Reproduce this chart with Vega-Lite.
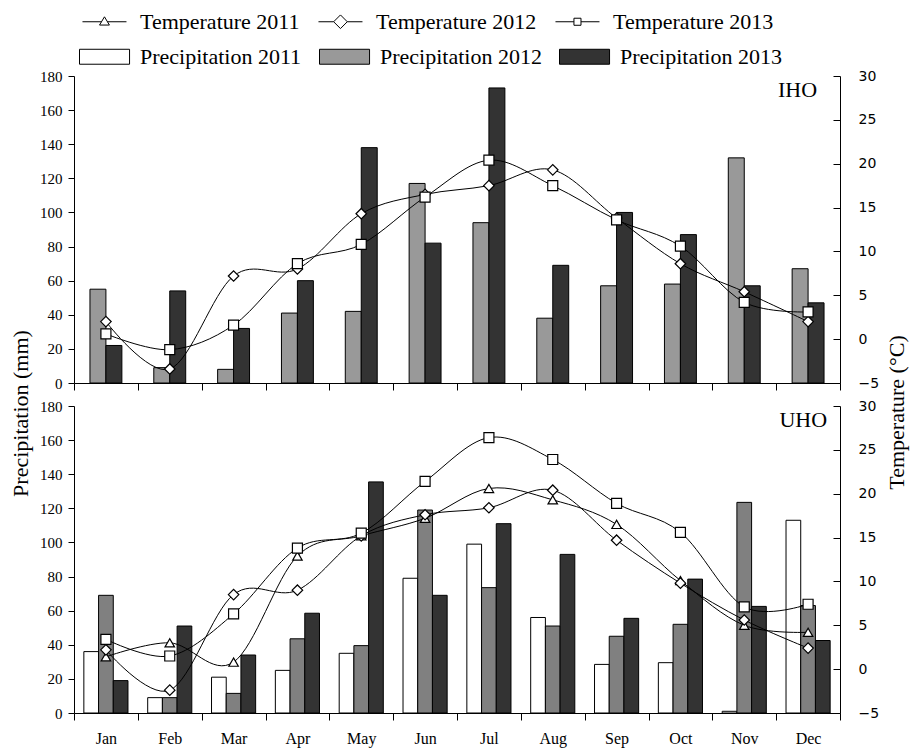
{
  "$schema": "https://vega.github.io/schema/vega-lite/v6.json",
  "padding": {"left": 9, "top": 10, "right": 2, "bottom": 5},
  "background": "white",
  "config": {
    "view": {"stroke": null},
    "font": "Liberation Serif",
    "axis": {"domainColor": "black", "tickColor": "black", "labelColor": "black", "titleColor": "black", "grid": false, "titleFontWeight": "normal", "labelFont": "Liberation Serif", "titleFont": "Liberation Serif", "domainWidth": 1, "tickWidth": 1, "labelOverlap": false}
  },
  "datasets": {
    "precip": [
      {"panel": "IHO", "month": "Jan", "series": "Precipitation 2012", "precip": 55},
      {"panel": "IHO", "month": "Feb", "series": "Precipitation 2012", "precip": 9},
      {"panel": "IHO", "month": "Mar", "series": "Precipitation 2012", "precip": 8},
      {"panel": "IHO", "month": "Apr", "series": "Precipitation 2012", "precip": 41},
      {"panel": "IHO", "month": "May", "series": "Precipitation 2012", "precip": 42},
      {"panel": "IHO", "month": "Jun", "series": "Precipitation 2012", "precip": 117},
      {"panel": "IHO", "month": "Jul", "series": "Precipitation 2012", "precip": 94},
      {"panel": "IHO", "month": "Aug", "series": "Precipitation 2012", "precip": 38},
      {"panel": "IHO", "month": "Sep", "series": "Precipitation 2012", "precip": 57},
      {"panel": "IHO", "month": "Oct", "series": "Precipitation 2012", "precip": 58},
      {"panel": "IHO", "month": "Nov", "series": "Precipitation 2012", "precip": 132},
      {"panel": "IHO", "month": "Dec", "series": "Precipitation 2012", "precip": 67},
      {"panel": "IHO", "month": "Jan", "series": "Precipitation 2013", "precip": 22},
      {"panel": "IHO", "month": "Feb", "series": "Precipitation 2013", "precip": 54},
      {"panel": "IHO", "month": "Mar", "series": "Precipitation 2013", "precip": 32},
      {"panel": "IHO", "month": "Apr", "series": "Precipitation 2013", "precip": 60},
      {"panel": "IHO", "month": "May", "series": "Precipitation 2013", "precip": 138},
      {"panel": "IHO", "month": "Jun", "series": "Precipitation 2013", "precip": 82},
      {"panel": "IHO", "month": "Jul", "series": "Precipitation 2013", "precip": 173},
      {"panel": "IHO", "month": "Aug", "series": "Precipitation 2013", "precip": 69},
      {"panel": "IHO", "month": "Sep", "series": "Precipitation 2013", "precip": 100},
      {"panel": "IHO", "month": "Oct", "series": "Precipitation 2013", "precip": 87},
      {"panel": "IHO", "month": "Nov", "series": "Precipitation 2013", "precip": 57},
      {"panel": "IHO", "month": "Dec", "series": "Precipitation 2013", "precip": 47},
      {"panel": "UHO", "month": "Jan", "series": "Precipitation 2011", "precip": 36},
      {"panel": "UHO", "month": "Feb", "series": "Precipitation 2011", "precip": 9},
      {"panel": "UHO", "month": "Mar", "series": "Precipitation 2011", "precip": 21},
      {"panel": "UHO", "month": "Apr", "series": "Precipitation 2011", "precip": 25},
      {"panel": "UHO", "month": "May", "series": "Precipitation 2011", "precip": 35},
      {"panel": "UHO", "month": "Jun", "series": "Precipitation 2011", "precip": 79},
      {"panel": "UHO", "month": "Jul", "series": "Precipitation 2011", "precip": 99},
      {"panel": "UHO", "month": "Aug", "series": "Precipitation 2011", "precip": 56},
      {"panel": "UHO", "month": "Sep", "series": "Precipitation 2011", "precip": 28.5},
      {"panel": "UHO", "month": "Oct", "series": "Precipitation 2011", "precip": 29.5},
      {"panel": "UHO", "month": "Nov", "series": "Precipitation 2011", "precip": 1},
      {"panel": "UHO", "month": "Dec", "series": "Precipitation 2011", "precip": 113},
      {"panel": "UHO", "month": "Jan", "series": "Precipitation 2012", "precip": 69},
      {"panel": "UHO", "month": "Feb", "series": "Precipitation 2012", "precip": 9},
      {"panel": "UHO", "month": "Mar", "series": "Precipitation 2012", "precip": 11.5},
      {"panel": "UHO", "month": "Apr", "series": "Precipitation 2012", "precip": 43.5},
      {"panel": "UHO", "month": "May", "series": "Precipitation 2012", "precip": 39.5},
      {"panel": "UHO", "month": "Jun", "series": "Precipitation 2012", "precip": 119},
      {"panel": "UHO", "month": "Jul", "series": "Precipitation 2012", "precip": 73.5},
      {"panel": "UHO", "month": "Aug", "series": "Precipitation 2012", "precip": 51},
      {"panel": "UHO", "month": "Sep", "series": "Precipitation 2012", "precip": 45},
      {"panel": "UHO", "month": "Oct", "series": "Precipitation 2012", "precip": 52},
      {"panel": "UHO", "month": "Nov", "series": "Precipitation 2012", "precip": 123.5},
      {"panel": "UHO", "month": "Dec", "series": "Precipitation 2012", "precip": 63},
      {"panel": "UHO", "month": "Jan", "series": "Precipitation 2013", "precip": 19},
      {"panel": "UHO", "month": "Feb", "series": "Precipitation 2013", "precip": 51},
      {"panel": "UHO", "month": "Mar", "series": "Precipitation 2013", "precip": 34},
      {"panel": "UHO", "month": "Apr", "series": "Precipitation 2013", "precip": 58.5},
      {"panel": "UHO", "month": "May", "series": "Precipitation 2013", "precip": 135.5},
      {"panel": "UHO", "month": "Jun", "series": "Precipitation 2013", "precip": 69},
      {"panel": "UHO", "month": "Jul", "series": "Precipitation 2013", "precip": 111},
      {"panel": "UHO", "month": "Aug", "series": "Precipitation 2013", "precip": 93},
      {"panel": "UHO", "month": "Sep", "series": "Precipitation 2013", "precip": 55.5},
      {"panel": "UHO", "month": "Oct", "series": "Precipitation 2013", "precip": 78.5},
      {"panel": "UHO", "month": "Nov", "series": "Precipitation 2013", "precip": 62.5},
      {"panel": "UHO", "month": "Dec", "series": "Precipitation 2013", "precip": 42.5}
    ],
    "temp": [
      {"panel": "IHO", "month": "Jan", "series": "Temperature 2012", "temp": 2.0},
      {"panel": "IHO", "month": "Feb", "series": "Temperature 2012", "temp": -3.4},
      {"panel": "IHO", "month": "Mar", "series": "Temperature 2012", "temp": 7.2},
      {"panel": "IHO", "month": "Apr", "series": "Temperature 2012", "temp": 8.0},
      {"panel": "IHO", "month": "May", "series": "Temperature 2012", "temp": 14.3},
      {"panel": "IHO", "month": "Jun", "series": "Temperature 2012", "temp": 16.5},
      {"panel": "IHO", "month": "Jul", "series": "Temperature 2012", "temp": 17.5},
      {"panel": "IHO", "month": "Aug", "series": "Temperature 2012", "temp": 19.3},
      {"panel": "IHO", "month": "Sep", "series": "Temperature 2012", "temp": 13.8},
      {"panel": "IHO", "month": "Oct", "series": "Temperature 2012", "temp": 8.6},
      {"panel": "IHO", "month": "Nov", "series": "Temperature 2012", "temp": 5.4},
      {"panel": "IHO", "month": "Dec", "series": "Temperature 2012", "temp": 2.0},
      {"panel": "IHO", "month": "Jan", "series": "Temperature 2013", "temp": 0.6},
      {"panel": "IHO", "month": "Feb", "series": "Temperature 2013", "temp": -1.2},
      {"panel": "IHO", "month": "Mar", "series": "Temperature 2013", "temp": 1.6},
      {"panel": "IHO", "month": "Apr", "series": "Temperature 2013", "temp": 8.6},
      {"panel": "IHO", "month": "May", "series": "Temperature 2013", "temp": 10.8},
      {"panel": "IHO", "month": "Jun", "series": "Temperature 2013", "temp": 16.2},
      {"panel": "IHO", "month": "Jul", "series": "Temperature 2013", "temp": 20.4},
      {"panel": "IHO", "month": "Aug", "series": "Temperature 2013", "temp": 17.5},
      {"panel": "IHO", "month": "Sep", "series": "Temperature 2013", "temp": 13.6},
      {"panel": "IHO", "month": "Oct", "series": "Temperature 2013", "temp": 10.6},
      {"panel": "IHO", "month": "Nov", "series": "Temperature 2013", "temp": 4.2},
      {"panel": "IHO", "month": "Dec", "series": "Temperature 2013", "temp": 3.1},
      {"panel": "UHO", "month": "Jan", "series": "Temperature 2011", "temp": 1.4},
      {"panel": "UHO", "month": "Feb", "series": "Temperature 2011", "temp": 3.0},
      {"panel": "UHO", "month": "Mar", "series": "Temperature 2011", "temp": 0.8},
      {"panel": "UHO", "month": "Apr", "series": "Temperature 2011", "temp": 12.9},
      {"panel": "UHO", "month": "May", "series": "Temperature 2011", "temp": 15.2},
      {"panel": "UHO", "month": "Jun", "series": "Temperature 2011", "temp": 17.2},
      {"panel": "UHO", "month": "Jul", "series": "Temperature 2011", "temp": 20.6},
      {"panel": "UHO", "month": "Aug", "series": "Temperature 2011", "temp": 19.3},
      {"panel": "UHO", "month": "Sep", "series": "Temperature 2011", "temp": 16.5},
      {"panel": "UHO", "month": "Oct", "series": "Temperature 2011", "temp": 10.1},
      {"panel": "UHO", "month": "Nov", "series": "Temperature 2011", "temp": 5.0},
      {"panel": "UHO", "month": "Dec", "series": "Temperature 2011", "temp": 4.2},
      {"panel": "UHO", "month": "Jan", "series": "Temperature 2012", "temp": 2.2},
      {"panel": "UHO", "month": "Feb", "series": "Temperature 2012", "temp": -2.4},
      {"panel": "UHO", "month": "Mar", "series": "Temperature 2012", "temp": 8.5},
      {"panel": "UHO", "month": "Apr", "series": "Temperature 2012", "temp": 9.0},
      {"panel": "UHO", "month": "May", "series": "Temperature 2012", "temp": 15.2},
      {"panel": "UHO", "month": "Jun", "series": "Temperature 2012", "temp": 17.6},
      {"panel": "UHO", "month": "Jul", "series": "Temperature 2012", "temp": 18.4},
      {"panel": "UHO", "month": "Aug", "series": "Temperature 2012", "temp": 20.4},
      {"panel": "UHO", "month": "Sep", "series": "Temperature 2012", "temp": 14.7},
      {"panel": "UHO", "month": "Oct", "series": "Temperature 2012", "temp": 9.8},
      {"panel": "UHO", "month": "Nov", "series": "Temperature 2012", "temp": 5.6},
      {"panel": "UHO", "month": "Dec", "series": "Temperature 2012", "temp": 2.4},
      {"panel": "UHO", "month": "Jan", "series": "Temperature 2013", "temp": 3.4},
      {"panel": "UHO", "month": "Feb", "series": "Temperature 2013", "temp": 1.5},
      {"panel": "UHO", "month": "Mar", "series": "Temperature 2013", "temp": 6.3},
      {"panel": "UHO", "month": "Apr", "series": "Temperature 2013", "temp": 13.8},
      {"panel": "UHO", "month": "May", "series": "Temperature 2013", "temp": 15.5},
      {"panel": "UHO", "month": "Jun", "series": "Temperature 2013", "temp": 21.4},
      {"panel": "UHO", "month": "Jul", "series": "Temperature 2013", "temp": 26.4},
      {"panel": "UHO", "month": "Aug", "series": "Temperature 2013", "temp": 23.9},
      {"panel": "UHO", "month": "Sep", "series": "Temperature 2013", "temp": 18.9},
      {"panel": "UHO", "month": "Oct", "series": "Temperature 2013", "temp": 15.6},
      {"panel": "UHO", "month": "Nov", "series": "Temperature 2013", "temp": 7.1},
      {"panel": "UHO", "month": "Dec", "series": "Temperature 2013", "temp": 7.4}
    ],
    "labels": [{"panel": "IHO"}, {"panel": "UHO"}]
  },
  "spacing": 23,
  "bounds": "flush",
  "resolve": {
    "scale": {"x": "independent", "y": "independent", "fill": "independent", "stroke": "independent", "xOffset": "independent"},
    "legend": {"fill": "independent", "stroke": "independent"}
  },
  "vconcat": [
    {
      "width": 766,
      "height": 307,
      "resolve": {"scale": {"y": "independent"}},
      "layer": [
        {
          "layer": [
            {
              "data": {"name": "precip"},
              "transform": [{"filter": "datum.panel === 'IHO'"}],
              "mark": {"type": "bar", "stroke": "black", "strokeWidth": 1},
              "encoding": {
                "x": {"field": "month", "type": "nominal", "sort": ["Jan","Feb","Mar","Apr","May","Jun","Jul","Aug","Sep","Oct","Nov","Dec"], "scale": {"paddingInner": 0, "paddingOuter": 0}, "axis": {"title": null, "labels": false, "tickBand": "extent", "tickSize": 7}},
                "xOffset": {"field": "series", "type": "nominal", "scale": {"domain": ["Precipitation 2012", "Precipitation 2013"], "paddingInner": 0, "paddingOuter": 1.2}},
                "y": {"field": "precip", "type": "quantitative", "scale": {"domain": [0, 180]}, "axis": {"title": "Precipitation (mm)", "titleY": 337, "titleFontSize": 22, "titlePadding": 7, "values": [0,20,40,60,80,100,120,140,160,180], "labelOverlap": false, "labelFontSize": 15, "labelPadding": 6, "tickSize": 6}},
                "fill": {"field": "series", "type": "nominal", "scale": {"domain": ["Precipitation 2011", "Precipitation 2012", "Precipitation 2013"], "range": ["#ffffff", "#999999", "#333333"]},
                  "legend": {"orient": "none", "legendX": 5, "legendY": -31, "direction": "horizontal", "columns": 3, "title": null, "symbolType": "M-1,-0.68H3.55V0.68H-1Z", "symbolSize": 484, "symbolStrokeColor": "black", "symbolStrokeWidth": 1, "labelFont": "Liberation Serif", "labelFontSize": 22, "labelColor": "black", "labelOffset": 38, "columnPadding": 15, "padding": 0, "labelLimit": 400}}
              }
            },
            {
              "data": {"name": "labels"},
              "transform": [{"filter": "datum.panel === 'IHO'"}],
              "mark": {"type": "text", "align": "right", "baseline": "top", "dx": 9, "dy": 4, "fontSize": 22, "font": "Liberation Serif", "color": "black"},
              "encoding": {
                "x": {"datum": "Dec"},
                "y": {"datum": 180, "type": "quantitative", "axis": {"title": "Precipitation (mm)", "titleY": 337, "titleFontSize": 22, "titlePadding": 7, "values": [0,20,40,60,80,100,120,140,160,180], "labelOverlap": false, "labelFontSize": 15, "labelPadding": 6, "tickSize": 6}},
                "text": {"field": "panel"}
              }
            }
          ]
        },
        {
          "data": {"name": "temp"},
          "transform": [{"filter": "datum.panel === 'IHO'"}],
          "encoding": {
            "x": {"field": "month", "type": "nominal", "sort": ["Jan","Feb","Mar","Apr","May","Jun","Jul","Aug","Sep","Oct","Nov","Dec"]},
            "y": {"field": "temp", "type": "quantitative", "scale": {"domain": [-5, 30]}, "axis": {"orient": "right", "title": "Temperature (°C)", "titleAngle": -90, "titleBaseline": "top", "titleY": 336, "titleFontSize": 22, "titlePadding": 8, "values": [-5,0,5,10,15,20,25,30], "labelOverlap": false, "labelFont": "DejaVu Sans", "labelFontSize": 14, "tickSize": -7, "labelPadding": 25}}
          },
          "layer": [
            {
              "mark": {"type": "line", "interpolate": "cardinal", "strokeWidth": 1},
              "encoding": {
                "detail": {"field": "series"},
                "stroke": {"field": "series", "type": "nominal", "scale": {"domain": ["Temperature 2011", "Temperature 2012", "Temperature 2013"], "range": ["#000000", "#000000", "#000000"]},
                  "legend": {"orient": "none", "legendX": 5, "legendY": -66, "direction": "horizontal", "columns": 3, "title": null, "symbolSize": 484, "symbolFillColor": "white", "symbolStrokeWidth": 1, "labelFont": "Liberation Serif", "labelFontSize": 22, "labelColor": "black", "labelOffset": 38, "columnPadding": 15, "padding": 0, "labelLimit": 400,
                    "symbolType": {"expr": "datum.value === 'Temperature 2011' ? 'M-0.73,0H1M1.54,0H3.27M1.27,-0.45L1.72,0.3H0.82Z' : datum.value === 'Temperature 2012' ? 'M-0.73,0H0.65M1.89,0H3.27M0.65,0L1.27,-0.62L1.89,0L1.27,0.62Z' : 'M-0.73,0H0.95M1.59,0H3.27M0.95,-0.32H1.59V0.32H0.95Z'"}}}
              }
            },
            {
              "transform": [{"filter": "datum.series === 'Temperature 2012'"}],
              "mark": {"type": "point", "shape": "diamond", "filled": true, "fill": "white", "stroke": "black", "strokeWidth": 1.2, "size": 110, "opacity": 1}
            },
            {
              "transform": [{"filter": "datum.series === 'Temperature 2013'"}],
              "mark": {"type": "point", "shape": "square", "filled": true, "fill": "white", "stroke": "black", "strokeWidth": 1.2, "size": 100, "opacity": 1}
            }
          ]
        }
      ]
    },
    {
      "width": 766,
      "height": 307,
      "resolve": {"scale": {"y": "independent"}},
      "layer": [
        {
          "layer": [
            {
              "data": {"name": "precip"},
              "transform": [{"filter": "datum.panel === 'UHO'"}],
              "mark": {"type": "bar", "stroke": "black", "strokeWidth": 1},
              "encoding": {
                "x": {"field": "month", "type": "nominal", "sort": ["Jan","Feb","Mar","Apr","May","Jun","Jul","Aug","Sep","Oct","Nov","Dec"], "scale": {"paddingInner": 0, "paddingOuter": 0}, "axis": {"title": null, "labelAngle": 0, "labelFontSize": 16, "labelPadding": 10, "tickBand": "extent", "tickSize": 7}},
                "xOffset": {"field": "series", "type": "nominal", "scale": {"domain": ["Precipitation 2011", "Precipitation 2012", "Precipitation 2013"], "paddingInner": 0, "paddingOuter": 0.67}},
                "y": {"field": "precip", "type": "quantitative", "scale": {"domain": [0, 180]}, "axis": {"title": null, "values": [0,20,40,60,80,100,120,140,160,180], "labelOverlap": false, "labelFontSize": 15, "labelPadding": 6, "tickSize": 6}},
                "fill": {"field": "series", "type": "nominal", "scale": {"domain": ["Precipitation 2011", "Precipitation 2012", "Precipitation 2013"], "range": ["#ffffff", "#808080", "#333333"]}, "legend": null}
              }
            },
            {
              "data": {"name": "labels"},
              "transform": [{"filter": "datum.panel === 'UHO'"}],
              "mark": {"type": "text", "align": "right", "baseline": "top", "dx": 19, "dy": 4, "fontSize": 22, "font": "Liberation Serif", "color": "black"},
              "encoding": {
                "x": {"datum": "Dec"},
                "y": {"datum": 180, "type": "quantitative", "axis": {"title": null, "values": [0,20,40,60,80,100,120,140,160,180], "labelOverlap": false, "labelFontSize": 15, "labelPadding": 6, "tickSize": 6}},
                "text": {"field": "panel"}
              }
            }
          ]
        },
        {
          "data": {"name": "temp"},
          "transform": [{"filter": "datum.panel === 'UHO'"}],
          "encoding": {
            "x": {"field": "month", "type": "nominal", "sort": ["Jan","Feb","Mar","Apr","May","Jun","Jul","Aug","Sep","Oct","Nov","Dec"]},
            "y": {"field": "temp", "type": "quantitative", "scale": {"domain": [-5, 30]}, "axis": {"orient": "right", "title": null, "values": [-5,0,5,10,15,20,25,30], "labelOverlap": false, "labelFont": "DejaVu Sans", "labelFontSize": 14, "tickSize": -7, "labelPadding": 25}}
          },
          "layer": [
            {
              "mark": {"type": "line", "interpolate": "cardinal", "color": "black", "strokeWidth": 1},
              "encoding": {"detail": {"field": "series"}}
            },
            {
              "transform": [{"filter": "datum.series === 'Temperature 2011'"}],
              "mark": {"type": "point", "shape": "triangle-up", "filled": true, "fill": "white", "stroke": "black", "strokeWidth": 1.2, "size": 90, "opacity": 1}
            },
            {
              "transform": [{"filter": "datum.series === 'Temperature 2012'"}],
              "mark": {"type": "point", "shape": "diamond", "filled": true, "fill": "white", "stroke": "black", "strokeWidth": 1.2, "size": 110, "opacity": 1}
            },
            {
              "transform": [{"filter": "datum.series === 'Temperature 2013'"}],
              "mark": {"type": "point", "shape": "square", "filled": true, "fill": "white", "stroke": "black", "strokeWidth": 1.2, "size": 100, "opacity": 1}
            }
          ]
        }
      ]
    }
  ]
}
